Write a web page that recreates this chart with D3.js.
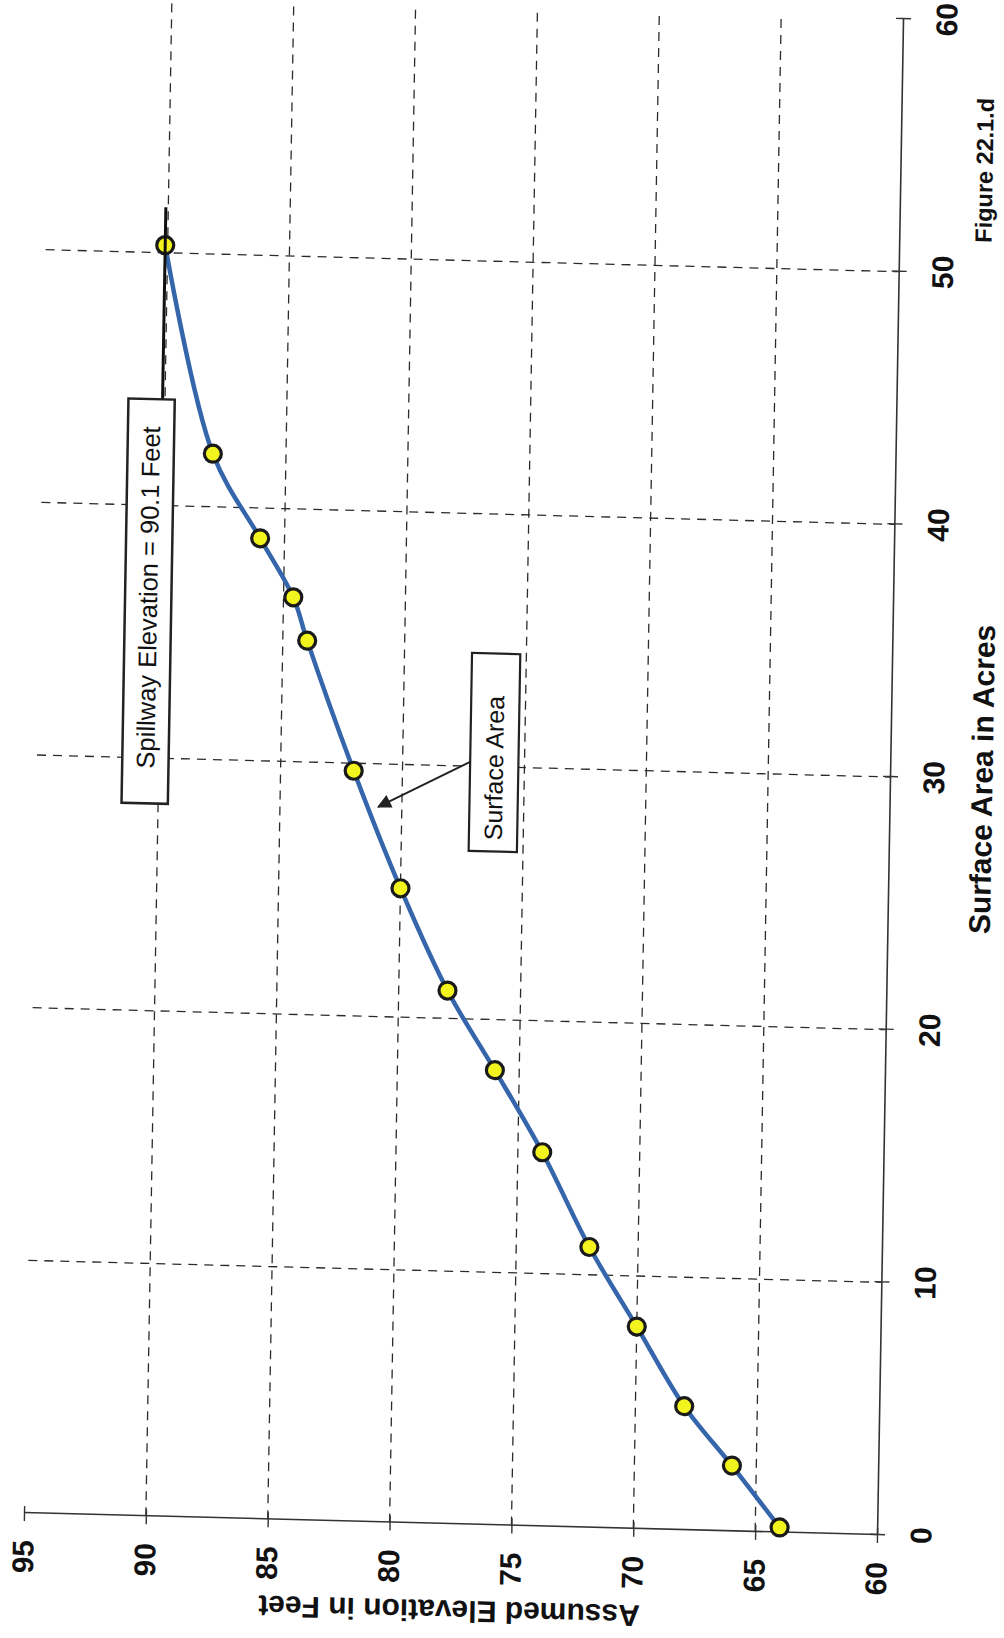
<!DOCTYPE html>
<html><head><meta charset="utf-8">
<script src="https://cdn.jsdelivr.net/npm/d3@7"></script>
<style>
html,body{margin:0;padding:0;background:#fff;}
svg{display:block;}
text{font-family:"Liberation Sans",Arial,sans-serif;fill:#111;}
</style></head><body>
<svg id="chart" width="1004" height="1638"></svg>
<script>
// ---- data ----
const areaAcres   = [0.2, 2.6, 4.9, 8.0, 11.1, 14.8, 18.0, 21.1, 25.1, 29.7, 34.8, 36.5, 38.8, 42.1, 50.3];
const elevationFt = [64, 66, 68, 70, 72, 74, 76, 78, 80, 82, 84, 84.6, 86, 88, 90.1];
const areaTicks = [0, 10, 20, 30, 40, 50, 60];
const elevTicks = [60, 65, 70, 75, 80, 85, 90, 95];
const areaTitle = "Surface Area in Acres";
const elevTitle = "Assumed Elevation in Feet";
const figureLabel = "Figure 22.1.d";
const spillwayLabel = "Spillway Elevation = 90.1 Feet";
const spillwayElev = 90.1;
const seriesLabel = "Surface Area";

// ---- layout: chart drawn in its own frame, then turned onto the page like the scan ----
const W = 1516.2, H = 853.3;
const svg = d3.select("#chart");
svg.append("rect").attr("width",1004).attr("height",1638).attr("fill","#fff");
const g = svg.append("g").attr("transform", "matrix(0.01715,-0.99985,0.99967,0.02578,24,1513)");

const x = d3.scaleLinear().domain([0, 60]).range([0, W]);
const y = d3.scaleLinear().domain([60, 95]).range([H, 0]);

const gridStyle = s => s.attr("stroke", "#2b2b2b").attr("stroke-width", 1.3).attr("stroke-dasharray", "9,7").attr("fill", "none");

// gridlines
g.append("g").selectAll("line").data(areaTicks.filter(d => d > 0 && d < 60)).join("line")
  .attr("x1", d => x(d)).attr("x2", d => x(d)).attr("y1", 0).attr("y2", H).call(gridStyle);
g.append("g").selectAll("line").data(elevTicks.filter(d => d > 60 && d < 95)).join("line")
  .attr("x1", 0).attr("x2", W).attr("y1", d => y(d)).attr("y2", d => y(d)).call(gridStyle);

// axes
const xAxis = g.append("g").attr("transform", `translate(0,${H})`)
  .call(d3.axisBottom(x).tickValues(areaTicks).tickSize(8).tickSizeOuter(0).tickPadding(25).tickFormat(d3.format("d")));
xAxis.selectAll(".tick").append("line").attr("y2", -7);
const yAxis = g.append("g")
  .call(d3.axisLeft(y).tickValues(elevTicks).tickSize(8).tickSizeOuter(0).tickPadding(19).tickFormat(d3.format("d")));
yAxis.selectAll(".tick").append("line").attr("x2", 7);
[xAxis, yAxis].forEach(ax => {
  ax.select(".domain").attr("stroke", "#333").attr("stroke-width", 1.6);
  ax.selectAll(".tick line").attr("stroke", "#333").attr("stroke-width", 1.4);
  ax.selectAll(".tick text").attr("font-size", 30).attr("font-weight", "bold")
    .attr("font-family", '"Liberation Sans",Arial,sans-serif').attr("fill", "#111");
});

// titles
g.append("text").attr("x", W / 2).attr("y", H + 92).attr("dy", "0.35em").attr("text-anchor", "middle")
  .attr("font-size", 30).attr("font-weight", "bold").text(areaTitle);
g.append("text").attr("transform", `translate(-87,${H / 2}) rotate(-90)`).attr("dy", "0.35em")
  .attr("text-anchor", "middle").attr("font-size", 30).attr("font-weight", "bold").text(elevTitle);
g.append("text").attr("x", x(54.1)).attr("y", H + 84).attr("dy", "0.35em").attr("text-anchor", "middle")
  .attr("font-size", 23.5).attr("font-weight", "bold").text(figureLabel);

// series
const pts = areaAcres.map((a, i) => ({ a, e: elevationFt[i] }));
const line = d3.line().x(d => x(d.a)).y(d => y(d.e)).curve(d3.curveCatmullRom.alpha(0.5));
g.append("path").datum(pts).attr("d", line).attr("fill", "none")
  .attr("stroke", "#3565aa").attr("stroke-width", 4.5).attr("stroke-linecap", "round");
g.append("g").selectAll("circle").data(pts).join("circle")
  .attr("cx", d => x(d.a)).attr("cy", d => y(d.e)).attr("r", 8.5)
  .attr("fill", "#f3f31e").attr("stroke", "#1a1a1a").attr("stroke-width", 3.2);

// spillway annotation
g.append("line").attr("x1", x(44.2)).attr("x2", x(51.8)).attr("y1", y(spillwayElev)).attr("y2", y(spillwayElev))
  .attr("stroke", "#111").attr("stroke-width", 3);
g.append("rect").attr("x", x(28.2)).attr("y", y(91.5)).attr("width", x(44.2) - x(28.2)).attr("height", y(89.6) - y(91.5))
  .attr("fill", "#fff").attr("stroke", "#222").attr("stroke-width", 2.5);
g.append("text").attr("x", x(36.35)).attr("y", (y(91.5) + y(89.6)) / 2).attr("dy", "0.35em")
  .attr("text-anchor", "middle").attr("font-size", 25.5).text(spillwayLabel);

// series label with arrow
const defs = svg.append("defs");
defs.append("marker").attr("id", "ah").attr("viewBox", "0 0 10 10").attr("refX", 9).attr("refY", 5)
  .attr("markerWidth", 18).attr("markerHeight", 14).attr("markerUnits", "userSpaceOnUse").attr("orient", "auto")
  .append("path").attr("d", "M0,0L10,5L0,10z").attr("fill", "#222");
g.append("line").attr("x1", x(30.2)).attr("y1", y(77.17)).attr("x2", x(28.3)).attr("y2", y(80.97))
  .attr("stroke", "#222").attr("stroke-width", 2).attr("marker-end", "url(#ah)");
g.append("rect").attr("x", x(26.65)).attr("y", y(77.23)).attr("width", x(34.48) - x(26.65)).attr("height", y(75.25) - y(77.23))
  .attr("fill", "#fff").attr("stroke", "#222").attr("stroke-width", 2.2);
g.append("text").attr("x", x(29.95)).attr("y", (y(77.23) + y(75.25)) / 2).attr("dy", "0.35em")
  .attr("text-anchor", "middle").attr("font-size", 25).text(seriesLabel);
</script>
</body></html>
